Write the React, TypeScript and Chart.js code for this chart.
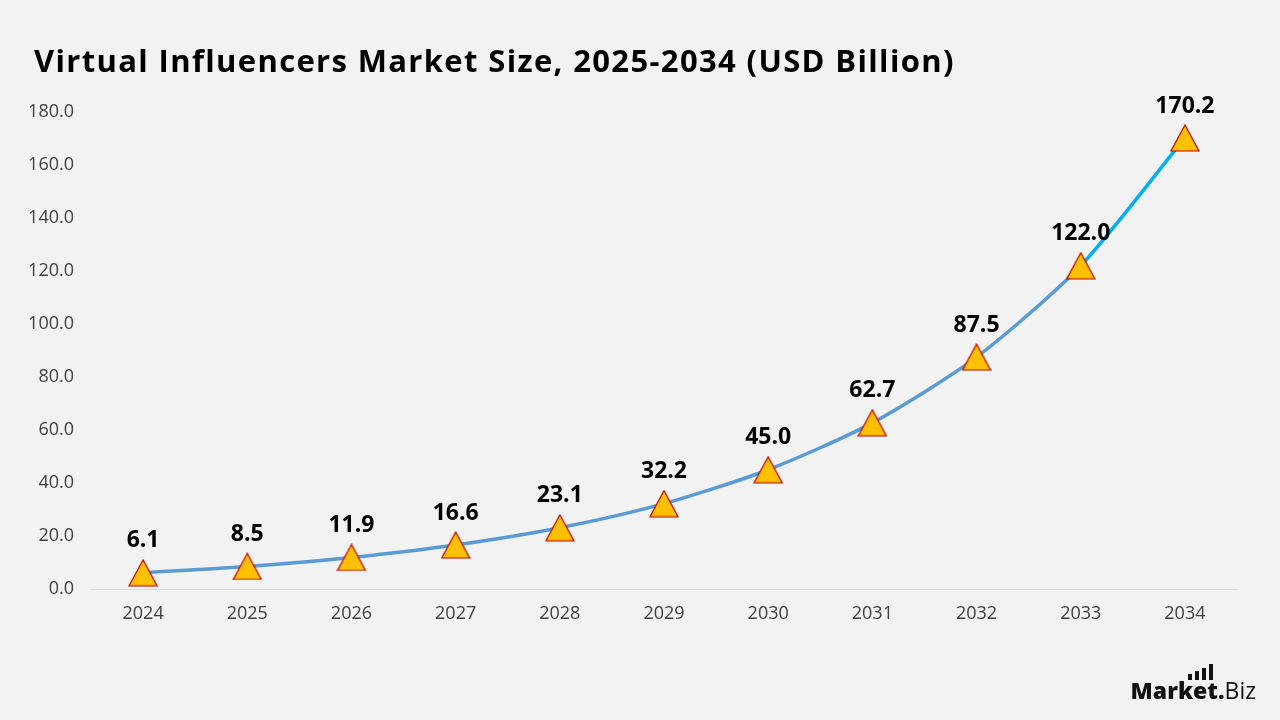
import React, { useEffect, useRef } from "react";
import { Chart, registerables } from "chart.js";

Chart.register(...registerables);

const years = ["2024", "2025", "2026", "2027", "2028", "2029", "2030", "2031", "2032", "2033", "2034"];
const marketSize = [6.1, 8.5, 11.9, 16.6, 23.1, 32.2, 45.0, 62.7, 87.5, 122.0, 170.2];
const yTicks = [0, 20, 40, 60, 80, 100, 120, 140, 160, 180];

const FONT = "'Open Sans', 'Noto Sans', sans-serif";

function makeTriangle(): HTMLCanvasElement {
  const c = document.createElement("canvas");
  c.width = 30;
  c.height = 28;
  const g = c.getContext("2d")!;
  g.beginPath();
  g.moveTo(15, 1);
  g.lineTo(29, 27);
  g.lineTo(1, 27);
  g.closePath();
  g.fillStyle = "#FFC000";
  g.fill();
  g.lineWidth = 1.2;
  g.strokeStyle = "#C00000";
  g.stroke();
  return c;
}

const labelPlugin = {
  id: "valueLabels",
  afterDatasetsDraw(chart: any) {
    const ctx = chart.ctx;
    const meta = chart.getDatasetMeta(0);
    ctx.save();
    ctx.font = `bold 23px ${FONT}`;
    ctx.fillStyle = "#000000";
    ctx.textAlign = "center";
    ctx.textBaseline = "middle";
    meta.data.forEach((pt: any, i: number) => {
      ctx.fillText(marketSize[i].toFixed(1), pt.x, pt.y - 32);
    });
    ctx.restore();
  },
};

const bgPlugin = {
  id: "bg",
  beforeDraw(chart: any) {
    const ctx = chart.ctx;
    ctx.save();
    ctx.fillStyle = "#F2F2F2";
    ctx.fillRect(0, 0, chart.width, chart.height);
    ctx.restore();
  },
};

export default function App() {
  const ref = useRef<HTMLCanvasElement>(null);
  useEffect(() => {
    document.body.style.margin = "0";
    const tri = makeTriangle();
    const chart = new Chart(ref.current!, {
      type: "line",
      data: {
        labels: years,
        datasets: [
          {
            data: marketSize,
            borderColor: "#5B9BD5",
            borderWidth: 3.5,
            tension: 0.25,
            pointStyle: tri as any,
            pointRadius: 15,
            segment: {
              borderColor: (c: any) => (c.p1DataIndex === marketSize.length - 1 ? "#00B0F0" : "#5B9BD5"),
            },
          },
        ],
      },
      options: {
        animation: false,
        responsive: false,
        maintainAspectRatio: false,
        layout: { padding: { top: 112, right: 43, left: 0, bottom: 0 } },
        plugins: { legend: { display: false }, tooltip: { enabled: false }, title: { display: false } },
        scales: {
          x: {
            offset: true,
            grid: { display: false, drawTicks: false },
            border: { display: true, color: "#D9D9D9", width: 1 },
            ticks: { color: "#404040", font: { family: FONT, size: 18 }, padding: 14 },
            afterFit: (s: any) => {
              s.height = 720 - 589;
            },
          },
          y: {
            min: 0,
            max: 180,
            afterBuildTicks: (s: any) => {
              s.ticks = yTicks.map((v) => ({ value: v }));
            },
            grid: { display: false, drawTicks: false },
            border: { display: false },
            ticks: {
              color: "#404040",
              font: { family: FONT, size: 18 },
              padding: 17,
              callback: (v: any) => Number(v).toFixed(1),
            },
            afterFit: (s: any) => {
              s.width = 91;
            },
          },
        },
      },
      plugins: [bgPlugin, labelPlugin],
    });
    return () => chart.destroy();
  }, []);

  return (
    <div style={{ position: "fixed", left: 0, top: 0, width: 1280, height: 720, background: "#F2F2F2" }}>
      <canvas ref={ref} width={1280} height={720} style={{ position: "absolute", left: 0, top: 0 }} />
      <div
        style={{
          position: "absolute",
          left: 34,
          top: 39,
          fontFamily: FONT,
          fontWeight: 700,
          fontSize: 31,
          color: "#000",
          whiteSpace: "nowrap",
          letterSpacing: 1.35,
        }}
      >
        Virtual Influencers Market Size, 2025-2034 (USD Billion)
      </div>
      <div
        style={{
          position: "absolute",
          right: 24,
          top: 674,
          fontFamily: FONT,
          fontSize: 23,
          color: "#111",
          whiteSpace: "nowrap",
        }}
      >
        <span style={{ fontWeight: 800 }}>Market</span>
        <span style={{ fontWeight: 800 }}>.</span>
        <span style={{ fontWeight: 400 }}>Biz</span>
      </div>
      <div style={{ position: "absolute", left: 1188, top: 664, display: "flex", alignItems: "flex-end", gap: 3 }}>
        <div style={{ width: 4, height: 6, background: "#111" }} />
        <div style={{ width: 4, height: 9, background: "#111" }} />
        <div style={{ width: 4, height: 12, background: "#111" }} />
        <div style={{ width: 4, height: 16, background: "#111" }} />
      </div>
    </div>
  );
}
